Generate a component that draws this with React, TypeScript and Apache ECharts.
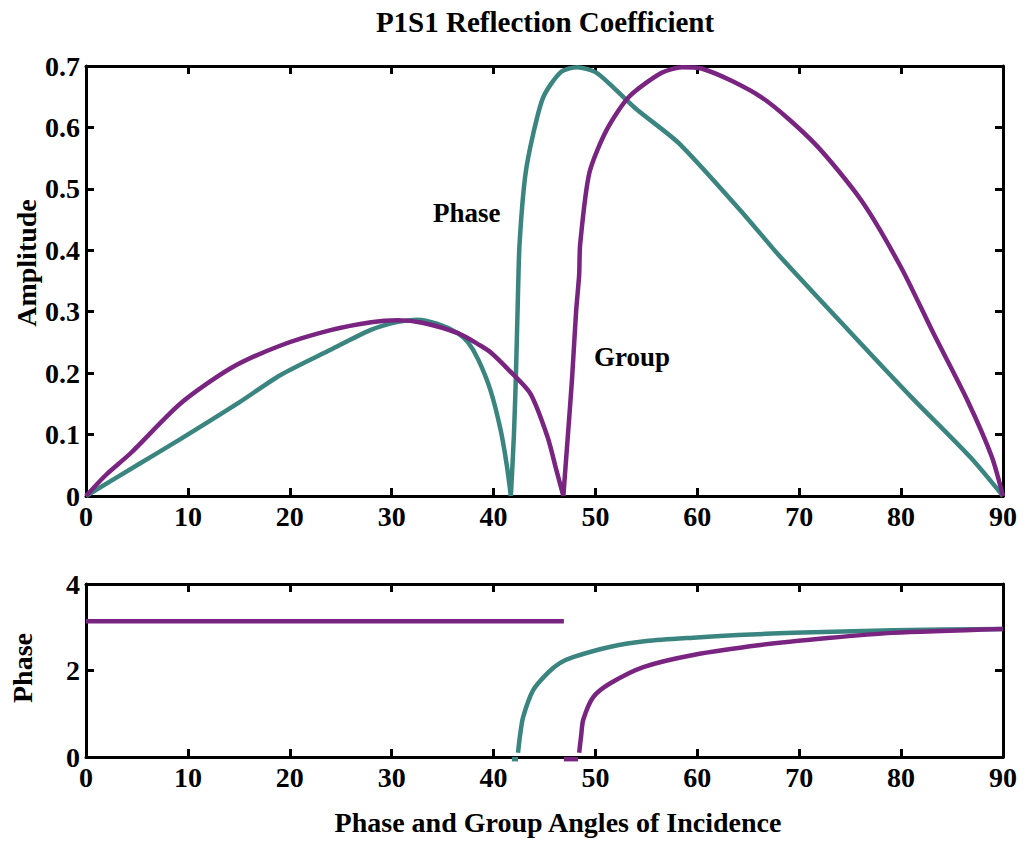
import React, { useEffect, useRef } from "react";
import * as echarts from "echarts";

// Top panel: amplitude vs angle (branches split at the zero cusps)
const phaseAmpLeft: [number, number][] = [
  [0, 0], [5, 0.05], [9.3, 0.093], [15, 0.152], [19.1, 0.197], [24, 0.238], [27.9, 0.27],
  [30.5, 0.283], [32.5, 0.287], [34.5, 0.28], [36.5, 0.265], [37.5, 0.25], [38.5, 0.222],
  [39.7, 0.172], [40.7, 0.107], [41.3, 0.05], [41.7, 0],
];
const phaseAmpRight: [number, number][] = [
  [41.7, 0], [42.0, 0.1], [42.2, 0.2], [42.4, 0.33], [42.55, 0.41], [43.1, 0.52],
  [43.9, 0.59], [44.9, 0.65], [46.6, 0.69], [48.2, 0.698], [50, 0.69], [51.7, 0.666],
  [54, 0.63], [58.2, 0.574], [64.7, 0.456], [68, 0.392], [75.1, 0.265], [81, 0.161],
  [86.8, 0.063], [90, 0],
];
const groupAmpLeft: [number, number][] = [
  [0, 0], [2, 0.035], [4.4, 0.07], [9.3, 0.151], [14.2, 0.208], [19.1, 0.245], [24, 0.27],
  [28, 0.283], [30.6, 0.286], [33, 0.282], [36.5, 0.265], [38.7, 0.245], [39.7, 0.234],
  [41.5, 0.205], [43.6, 0.167], [45.3, 0.096], [46.2, 0.04], [46.85, 0],
];
const groupAmpRight: [number, number][] = [
  [46.85, 0], [47.3, 0.1], [47.7, 0.19], [48.1, 0.3], [48.4, 0.36], [48.5, 0.41],
  [49.4, 0.526], [51.1, 0.596], [53.3, 0.65], [56.5, 0.689], [58.5, 0.698], [60.4, 0.696],
  [66.3, 0.649], [71.5, 0.574], [76.1, 0.481], [80, 0.372], [83.2, 0.264], [86.5, 0.156],
  [88.9, 0.064], [90, 0],
];

// Bottom panel: phase vs angle
const phasePhase: [number, number][] = [
  [42.4, 0.1], [42.6, 0.5], [42.9, 0.92], [43.9, 1.55], [45.3, 1.94], [46.5, 2.17],
  [47.8, 2.31], [51.5, 2.55], [55, 2.68], [59.6, 2.76], [64, 2.82], [69.4, 2.87],
  [79.2, 2.93], [90, 2.96],
];
const phaseZero: [number, number][] = [[41.8, -0.05], [42.4, -0.05]];
const groupPhaseFlat: [number, number][] = [[0, 3.14], [46.9, 3.14]];
const groupPhase: [number, number][] = [
  [48.4, 0.1], [48.6, 0.5], [48.8, 0.86], [49.8, 1.39], [51.5, 1.71], [54.7, 2.08],
  [59.6, 2.36], [66.2, 2.59], [72.8, 2.75], [79.2, 2.87], [90, 2.96],
];
const groupZero: [number, number][] = [[46.9, -0.05], [48.3, -0.05]];

const TEAL = "#3b8580";
const PURPLE = "#7a2482";
const FONT = "Liberation Serif";

export default function App() {
  const ref = useRef<HTMLDivElement>(null);
  useEffect(() => {
    if (!ref.current) return;
    const chart = echarts.init(ref.current, null, { renderer: "svg" });
    const axisLine = { show: true, onZero: false, lineStyle: { color: "#000", width: 3 } };
    const tick = { show: true, inside: true, length: 8, lineStyle: { color: "#000", width: 3 } };
    const label = { fontFamily: FONT, fontWeight: "bold" as const, fontSize: 28, color: "#000" };
    const xBase = (grid: number, pos: "bottom" | "top", show: boolean) => ({
      type: "value" as const,
      gridIndex: grid,
      position: pos,
      min: 0,
      max: 90,
      interval: 10,
      axisLine,
      axisTick: tick,
      splitLine: { show: false },
      axisLabel: show ? { ...label, margin: 6 } : { show: false },
    });
    const yBase = (grid: number, pos: "left" | "right", show: boolean, max: number, interval: number) => ({
      type: "value" as const,
      gridIndex: grid,
      position: pos,
      min: 0,
      max,
      interval,
      axisLine,
      axisTick: tick,
      splitLine: { show: false },
      axisLabel: show ? { ...label, margin: 6 } : { show: false },
    });
    const line = (data: [number, number][], color: string, x: number, y: number, smooth = 0.25) => ({
      type: "line" as const,
      xAxisIndex: x,
      yAxisIndex: y,
      data,
      showSymbol: false,
      symbol: "none",
      smooth,
      clip: false,
      lineStyle: { color, width: 4.5 },
      itemStyle: { color },
    });
    const txt = (text: string, x: number, y: number, size: number, align = "center", rot = 0) => ({
      type: "text" as const,
      x,
      y,
      rotation: rot,
      style: {
        text,
        font: `bold ${size}px ${FONT}`,
        fill: "#000",
        align,
        verticalAlign: "middle",
      },
    });
    chart.setOption({
      animation: false,
      backgroundColor: "#fff",
      grid: [
        { left: 86, right: 25, top: 66, height: 430 },
        { left: 86, right: 25, top: 584, height: 173 },
      ],
      xAxis: [
        xBase(0, "bottom", true),
        xBase(0, "top", false),
        xBase(1, "bottom", true),
        xBase(1, "top", false),
      ],
      yAxis: [
        yBase(0, "left", true, 0.7, 0.1),
        yBase(0, "right", false, 0.7, 0.1),
        yBase(1, "left", true, 4, 2),
        yBase(1, "right", false, 4, 2),
      ],
      series: [
        line(phaseAmpLeft, TEAL, 0, 0),
        line(phaseAmpRight, TEAL, 0, 0),
        line(groupAmpLeft, PURPLE, 0, 0),
        line(groupAmpRight, PURPLE, 0, 0),
        line(phasePhase, TEAL, 2, 2),
        line(phaseZero, TEAL, 2, 2, 0),
        line(groupPhaseFlat, PURPLE, 2, 2, 0),
        line(groupPhase, PURPLE, 2, 2),
        line(groupZero, PURPLE, 2, 2, 0),
      ],
      graphic: [
        txt("P1S1 Reflection Coefficient", 545, 22, 29),
        txt("Amplitude", 26, 263, 28, "center", Math.PI / 2),
        txt("Phase", 22, 668, 28, "center", Math.PI / 2),
        txt("Phase and Group Angles of Incidence", 558, 822, 28),
        txt("Phase", 433, 213, 27, "left"),
        txt("Group", 594, 357, 27, "left"),
      ],
    });
    return () => chart.dispose();
  }, []);
  return (
    <div
      ref={ref}
      style={{ position: "fixed", left: 0, top: 0, width: 1028, height: 842, background: "#fff" }}
    />
  );
}
